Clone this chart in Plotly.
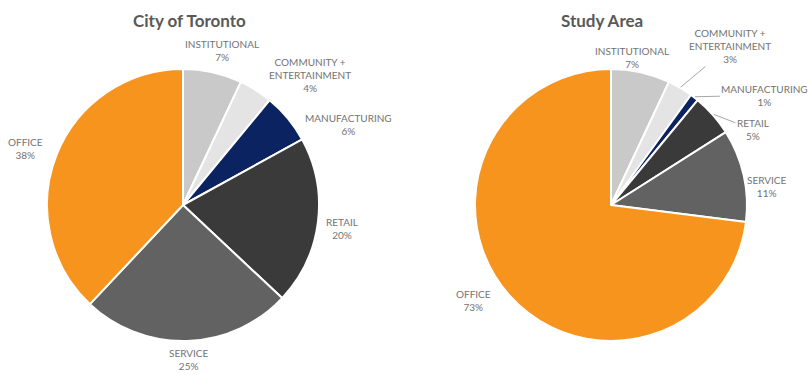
import math
import plotly.graph_objects as go

# Land-use categories (clockwise from 12 o'clock)
categories = ["INSTITUTIONAL", "COMMUNITY +<br>ENTERTAINMENT", "MANUFACTURING",
              "RETAIL", "SERVICE", "OFFICE"]
toronto_pct = [7, 4, 6, 20, 25, 38]
study_pct = [7, 3, 1, 5, 11, 73]
titles = ["City of Toronto", "Study Area"]

colors = ["#C9C9C9", "#E4E4E4", "#0B2461", "#3A3A3A", "#626262", "#F7941D"]
W, H = 810, 375
FONT = "Lato, 'Open Sans', sans-serif"
TEXT_GREY = "#737373"

# pixel boxes for the two pies: (left, top, size)
boxes = [(47, 69, 272), (475, 69, 272)]
title_x = [189, 602]
# label layout tweaks per pie: angular nudge (deg), extra radial gap (px), leader line flag
label_nudge = [
    [1.5, 12, 13.6, 1.2, -0.4, -1.9],
    [-4.5, 6.2, 16.7, 13.4, 6, 6.6],
]
label_extra = [
    [-5, -2, 1, -1.4, -1.7, 4],
    [-11.7, 17.4, 7.8, -3.7, -7.7, 3.3],
]
leader = [
    [False] * 6,
    [False, True, True, True, False, False],
]

CHAR_W, LINE_H, PAD = 5.8, 13, 7


def px_to_paper(x, y):
    return x / W, 1 - y / H


fig = go.Figure()
for k, vals in enumerate([toronto_pct, study_pct]):
    l, t, s = boxes[k]
    fig.add_trace(go.Pie(
        labels=categories, values=vals, sort=False, direction="clockwise",
        rotation=0,
        marker=dict(colors=colors, line=dict(color="white", width=2)),
        textinfo="none",
        domain=dict(x=[l / W, (l + s) / W], y=[1 - (t + s) / H, 1 - t / H]),
        showlegend=False, hoverinfo="label+value",
    ))

    # outside labels placed along each slice's mid-angle
    cx, cy, r = l + s / 2, t + s / 2, s / 2
    total = sum(vals)
    cum = 0
    for i, (cat, v) in enumerate(zip(categories, vals)):
        mid = (cum + v / 2) / total * 360
        cum += v
        lines = cat.split("<br>") + [f"{v}%"]
        w = max(len(x) for x in lines) * CHAR_W
        h = len(lines) * LINE_H
        ang = math.radians(mid + label_nudge[k][i])
        sa, ca = math.sin(ang), math.cos(ang)
        ext = abs(sa) * w / 2 + abs(ca) * h / 2
        d = r + PAD + ext + label_extra[k][i]
        lx, ly = cx + d * sa, cy - d * ca
        text = "<br>".join(lines)
        font = dict(family=FONT, size=10, color=TEXT_GREY)
        if leader[k][i]:
            m = math.radians(mid)
            ex, ey = cx + (r + 1) * math.sin(m), cy - (r + 1) * math.cos(m)
            px, py = px_to_paper(ex, ey)
            fig.add_annotation(text=text, x=px, y=py, xref="paper", yref="paper",
                               ax=lx - ex, ay=ly - ey, axref="pixel", ayref="pixel",
                               showarrow=True, arrowhead=0, arrowwidth=1,
                               arrowcolor="#A6A6A6", standoff=0, startstandoff=0,
                               font=font, align="center")
        else:
            px, py = px_to_paper(lx, ly)
            fig.add_annotation(text=text, x=px, y=py, xref="paper", yref="paper",
                               showarrow=False, font=font, align="center",
                               xanchor="center", yanchor="middle")

for title, tx in zip(titles, title_x):
    fig.add_annotation(text="<b>" + title + "</b>", x=tx / W, y=1 - 20 / H,
                       xref="paper", yref="paper", showarrow=False,
                       font=dict(family=FONT, size=17, color="#595959"),
                       xanchor="center", yanchor="middle")

fig.update_layout(width=W, height=H, margin=dict(l=0, r=0, t=0, b=0),
                  paper_bgcolor="white", plot_bgcolor="white")
fig.write_html("out.html")
